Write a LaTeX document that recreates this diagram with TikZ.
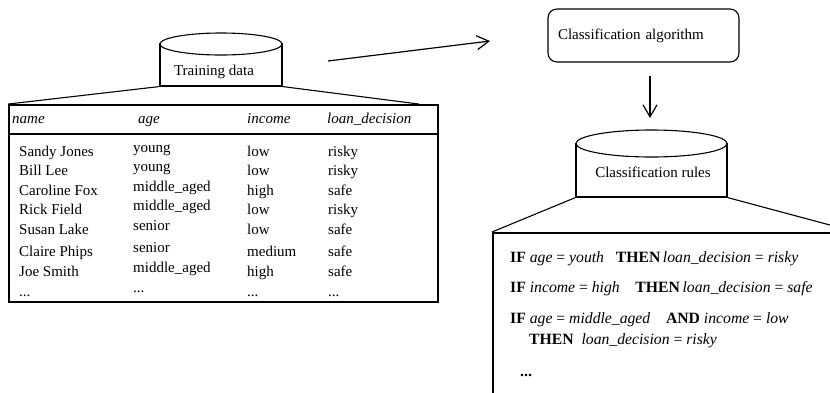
\documentclass[tikz,border=0pt]{standalone}
\usepackage{fontspec}
\setmainfont{Liberation Serif}
\usetikzlibrary{arrows.meta}
\begin{document}
\begin{tikzpicture}[x=1pt,y=-1pt,
  txt/.style={font=\fontsize{15}{18}\selectfont, inner sep=0pt, anchor=base west},
  hdr/.style={txt, font=\fontsize{15}{18}\selectfont\itshape},
  rule/.style={txt, font=\fontsize{15.7}{18}\selectfont},
  thin/.style={line width=1.1pt},
  thick/.style={line width=1.9pt},
  arr/.style={line width=1.2pt, -{Straight Barb[length=12pt,width=14pt,line width=1.2pt]}},
  body/.style={draw, thin, inner sep=0pt}]
\useasboundingbox (0,0) rectangle (830,392);

% Training data cylinder
\node[body, minimum width=122pt, minimum height=42pt] (tdbody) at (221,65) {};
\draw[thin, fill=white] (221,44) ellipse [x radius=61, y radius=11];
\node[txt, anchor=base] (tdlabel) at (214,75) {Training data};

% Table
\node[draw, thick, minimum width=429pt, minimum height=197pt, inner sep=0pt] (table) at (223.5,203.5) {};
\draw[thick] ([yshift=-30pt]table.north west) -- ([yshift=-30pt]table.north east);
\coordinate (tdr) at ([xshift=-20pt]table.north east);
\draw[thin] (tdbody.south west) -- (table.north west);
\draw[thin] (tdbody.south east) -- (tdr);

% header
\node[hdr] (h1) at (12,123) {name};
\node[hdr] (h2) at (138,123) {age};
\node[hdr] (h3) at (247,123) {income};
\node[hdr] (h4) at (327,123) {loan\_decision};

% rows
\foreach \n/\a/\i/\l/\y [count=\k] in {
  Sandy Jones/young/low/risky/156,
  Bill Lee/young/low/risky/175,
  Caroline Fox/middle\_aged/high/safe/195,
  Rick Field/middle\_aged/low/risky/214.5,
  Susan Lake/senior/low/safe/234.5,
  Claire Phips/senior/medium/safe/256,
  Joe Smith/middle\_aged/high/safe/276}{
  \node[txt] (n\k) at (19,\y) {\n};
  \node[txt] (a\k) at (133,\y-4) {\a};
  \node[txt] (i\k) at (247,\y) {\i};
  \node[txt] (l\k) at (328,\y) {\l};
}
\node[txt] (n8) at (19,296) {...};
\node[txt] (a8) at (133,292) {...};
\node[txt] (i8) at (247,296) {...};
\node[txt] (l8) at (328,296) {...};

% arrow to algorithm
\coordinate (a1s) at (328,61);
\coordinate (a1e) at (490,41);
\draw[arr] (a1s) -- (a1e);

% Classification algorithm
\node[draw, thin, rounded corners=9pt, minimum width=191pt, minimum height=53pt,
      text width=171pt, inner xsep=10pt, align=left,
      font=\fontsize{15}{18}\selectfont] (alg) at (643.5,35.5) {Classification algorithm};

\coordinate (a2s) at (650,76);
\coordinate (a2e) at (650,118);
\draw[arr] (a2s) -- (a2e);

% Classification rules cylinder
\node[body, minimum width=151pt, minimum height=53.5pt] (rcbody) at (651.5,170.25) {};
\draw[thin, fill=white] (651.5,143.5) ellipse [x radius=75.5, y radius=13.5];
\node[txt, anchor=base] (rclabel) at (653,177) {Classification rules};

% rules box
\node[draw, thick, minimum width=500pt, minimum height=300pt, inner sep=0pt, anchor=north west] (rules) at (492,232) {};
\coordinate (rcr) at (856,232);
\draw[thin] (rcbody.south west) -- (rules.north west);
\draw[thin] (rcbody.south east) -- (rcr);

\node[rule] (r1) at (510,262) {\textbf{IF} \textit{age} = \textit{youth}~~ \textbf{THEN}\,\textit{loan\_decision} = \textit{risky}};
\node[rule] (r2) at (510,292) {\textbf{IF} \textit{income} = \textit{high}~~~ \textbf{THEN}\,\textit{loan\_decision} = \textit{safe}};
\node[rule] (r3) at (510,323) {\textbf{IF} \textit{age} = \textit{middle\_aged}~~~ \textbf{AND} \textit{income} = \textit{low}};
\node[rule] (r4) at (529,344) {\textbf{THEN}~ \textit{loan\_decision} = \textit{risky}};
\node[rule] (r5) at (520,376) {\textbf{...}};
\end{tikzpicture}
\end{document}
